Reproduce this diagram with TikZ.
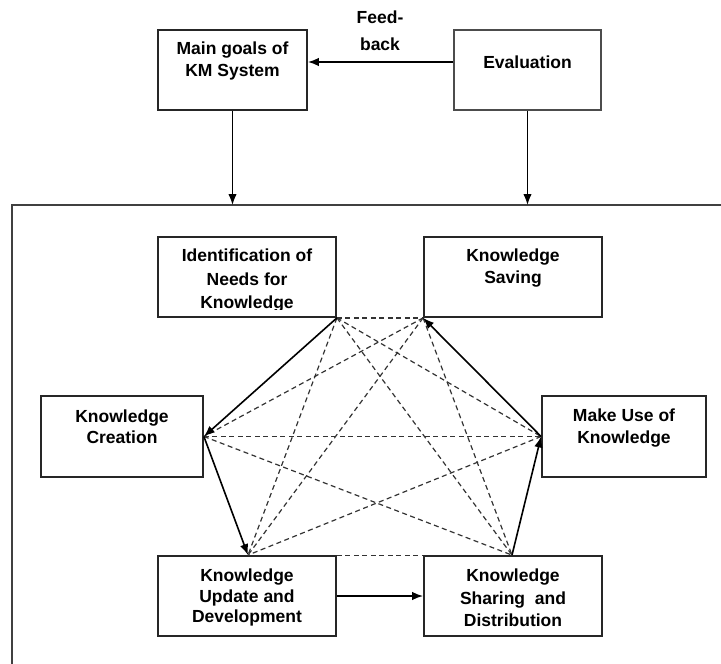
\documentclass[tikz,border=0pt]{standalone}
\usepackage{fontspec}
\setmainfont{Liberation Sans}
\usetikzlibrary{arrows.meta}
\begin{document}
\begin{tikzpicture}[x=1pt,y=-1pt,
  box/.style={draw=black!85, line width=1.8pt, inner sep=0pt},
  txt/.style={anchor=north, align=center, inner sep=0pt, font=\bfseries\fontsize{17.5}{22}\selectfont},
  arr/.style={line width=1.6pt, -{Latex[length=11pt,width=8.5pt]}},
  dline/.style={line width=1.2pt, dash pattern=on 5pt off 3.5pt, black!80}]
\useasboundingbox (0,0) rectangle (721,664);
% frame
\coordinate (ftl) at (12,205);
\coordinate (fbl) at (12,664);
\coordinate (ftr) at (721,205);
\draw[line width=1.8pt, black!75] (fbl) -- (ftl) -- (ftr);
% top boxes
\node[box, minimum width=149pt, minimum height=80pt] (goals) at (232.5,70) {};
\node[txt] (goalsT) at (232.5,42) {Main goals of\\KM System};
\node[box, draw=black!70, minimum width=147pt, minimum height=80pt] (eval) at (527.5,70) {};
\node[txt] (evalT) at (527.5,56) {Evaluation};
\node[txt, font=\bfseries\fontsize{17.5}{27}\selectfont] (fb) at (380,11) {Feed-\\back};
\draw[arr] ([yshift=8pt]eval.west) -- ([yshift=8pt]goals.east);
\draw[arr] (goals.south) -- (goals.south |- ftl);
\draw[arr] (eval.south) -- (eval.south |- ftl);
% inner boxes
\node[box, minimum width=178pt, minimum height=80pt] (ident) at (247,277) {};
\begin{scope}
\clip (158,240) rectangle (336,309.5);
\node[txt, font=\bfseries\fontsize{17.5}{23.5}\selectfont] (identT) at (247,249) {Identification of\\Needs for\\Knowledge};
\end{scope}
\node[box, minimum width=178pt, minimum height=80pt] (saving) at (513,277) {};
\node[txt] (savingT) at (513,249) {Knowledge\\Saving};
\node[box, minimum width=162pt, minimum height=81pt] (create) at (122,436.5) {};
\node[txt, font=\bfseries\fontsize{17.5}{20.5}\selectfont] (createT) at (122,410) {Knowledge\\Creation};
\node[box, minimum width=164pt, minimum height=81pt] (use) at (624,436.5) {};
\node[txt] (useT) at (624,409) {Make Use of\\Knowledge};
\node[box, minimum width=178pt, minimum height=80pt] (update) at (247,596) {};
\node[txt, font=\bfseries\fontsize{17.5}{20.5}\selectfont] (updateT) at (247,569) {Knowledge\\Update and\\Development};
\node[box, minimum width=178pt, minimum height=80pt] (share) at (513,596) {};
\node[txt, font=\bfseries\fontsize{17.5}{22.5}\selectfont] (shareT) at (513,569) {Knowledge\\Sharing~~and\\Distribution};
% hexagon points
\coordinate (A) at (ident.south east);
\coordinate (B) at (saving.south west);
\coordinate (C) at (create.east);
\coordinate (D) at (use.west);
\coordinate (E) at ([xshift=1pt]update.north);
\coordinate (F) at ([xshift=-1pt]share.north);
% dashed links
\draw[dline] (A) -- (B);
\draw[dline] (A) -- (D);
\draw[dline] (A) -- (E);
\draw[dline] (A) -- (F);
\draw[dline] (B) -- (C);
\draw[dline] (B) -- (E);
\draw[dline] (B) -- (F);
\draw[dline] (C) -- (D);
\draw[dline] (C) -- (F);
\draw[dline] (D) -- (E);
\draw[dline] (update.north east) -- (share.north west);
% solid arrows
\draw[arr] (A) -- (C);
\draw[arr] (C) -- (E);
\draw[arr] (update.east) -- (share.west);
\draw[arr] (F) -- (D);
\draw[arr] (D) -- (B);
\end{tikzpicture}
\end{document}
